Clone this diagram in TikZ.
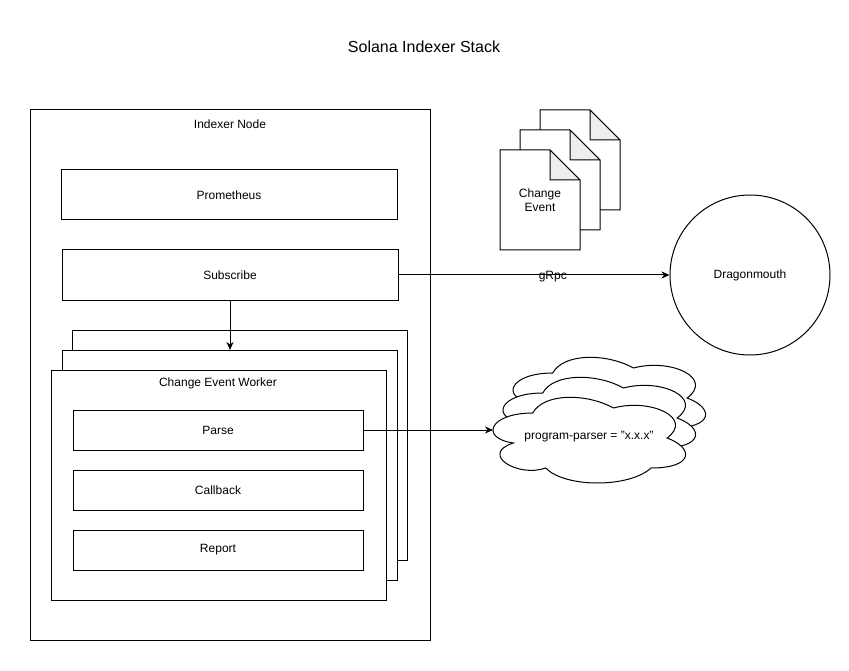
\documentclass[tikz,border=0pt]{standalone}
\usepackage{fontspec}
\setmainfont{Liberation Sans}
\usetikzlibrary{arrows.meta}
\definecolor{foldgray}{HTML}{EEEEEE}
\begin{document}
\begin{tikzpicture}[x=1pt,y=-1pt,
  every node/.style={font=\fontsize{12}{14}\selectfont},
  bx/.style={draw=black, line width=1pt, fill=white, inner sep=0pt, outer sep=0pt, anchor=north west},
  arr/.style={line width=1pt, -{Stealth[length=8pt,width=7pt,inset=2.5pt]}},
  docpic/.pic={
    \draw[line width=1pt, fill=white] (0,0) -- (50,0) -- (80,30) -- (80,100) -- (0,100) -- cycle;
    \draw[line width=1pt, fill=foldgray, line join=round] (50,0) -- (50,30) -- (80,30) -- cycle;
  },
  cloudpic/.pic={
    \draw[line width=1pt, fill=white] (53.75,25) .. controls (10.75,25) and (0,50) .. (34.4,55)
      .. controls (0,66) and (38.7,90) .. (66.65,80)
      .. controls (86,100) and (150.5,100) .. (172,80)
      .. controls (215,80) and (215,60) .. (188.125,50)
      .. controls (215,30) and (172,10) .. (134.375,20)
      .. controls (107.5,5) and (64.5,5) .. (53.75,25) -- cycle;
  }]
\useasboundingbox (0,0) rectangle (849,671);
\fill[white] (0,0) rectangle (849,671);

% title
\node[font=\fontsize{16}{19}\selectfont] (title) at (424,47) {Solana Indexer Stack};

% outer indexer node
\node[bx, minimum width=400pt, minimum height=530pt] (outer) at (30,110) {};
\node (outerlbl) at (230,124) {Indexer Node};

\node[bx, minimum width=336pt, minimum height=50pt] (prom) at (61,170) {Prometheus};
\node[bx, minimum width=336pt, minimum height=50pt] (sub) at (62,250) {Subscribe};

% worker stack
\node[bx, minimum width=335pt, minimum height=230pt] (wback) at (72,330) {};
\node[bx, minimum width=335pt, minimum height=230pt] (wmid) at (62,350) {};
\node[bx, minimum width=335pt, minimum height=230pt] (wfront) at (51,370) {};
\node (wlbl) at (218,383) {Change Event Worker};

\node[bx, minimum width=290pt, minimum height=40pt] (parse) at (73,410) {Parse};
\node[bx, minimum width=290pt, minimum height=40pt] (callback) at (73,470) {Callback};
\node[bx, minimum width=290pt, minimum height=40pt] (report) at (73,530) {Report};

% documents
\pic (docback) at (540,110) {docpic};
\pic (docmid) at (520,130) {docpic};
\pic (docfront) at (500,150) {docpic};
\node[align=center] (doclbl) at (540,200) {Change\\Event};

% dragonmouth
\node[draw=black, line width=1pt, circle, minimum size=160pt, inner sep=0pt] (dm) at (750,275) {Dragonmouth};

% clouds
\pic (cloudback) at (499,348) {cloudpic};
\pic (cloudmid) at (489,368) {cloudpic};
\pic (cloudfront) at (479,388) {cloudpic};
\node (cloudlbl) at (589,437) {program-parser = "x.x.x"};
\coordinate (cloudin) at (493,430);

% connectors
\draw[arr] (sub.east) -- (dm.west) node[pos=0.57, yshift=-2pt] (grpc) {gRpc};
\draw[arr] (sub.south) -- (sub.south |- wmid.north);
\draw[arr] (parse.east) -- (cloudin);
\end{tikzpicture}
\end{document}
